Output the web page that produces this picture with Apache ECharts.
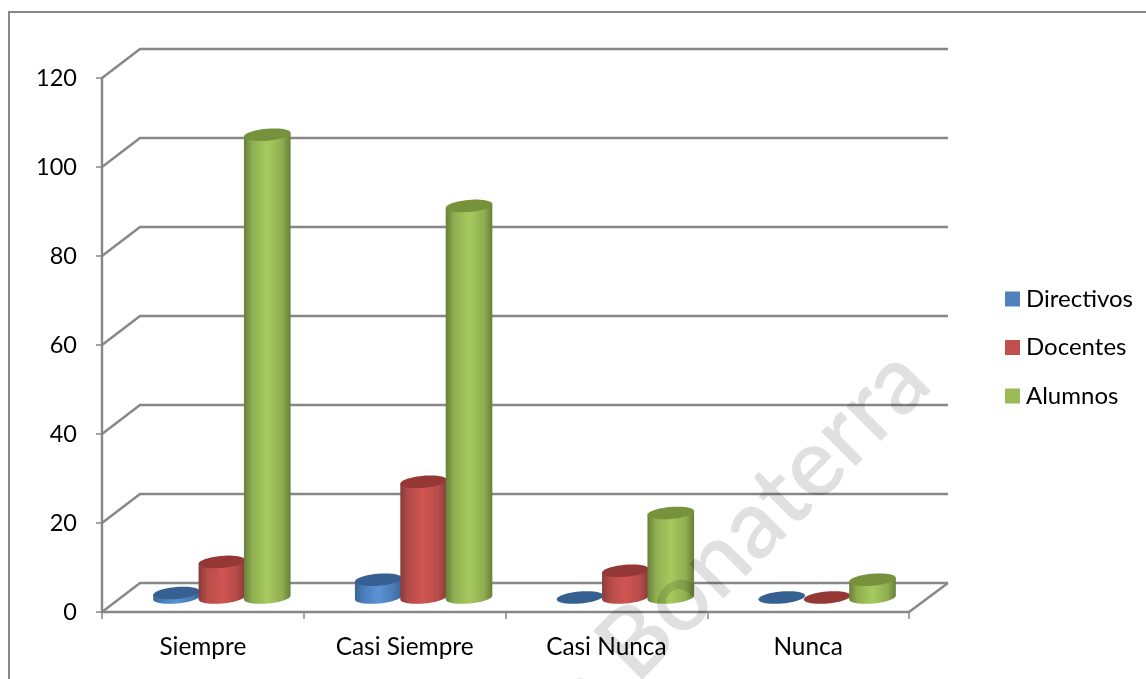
<!DOCTYPE html>
<html><head><meta charset="utf-8">
<style>html,body{margin:0;padding:0;background:#fff;overflow:hidden}#c{width:1146px;height:679px}</style>
<script src="https://cdn.jsdelivr.net/npm/echarts@6/dist/echarts.min.js"></script>
</head><body><div id="c"></div>
<script>
var categories = ['Siempre', 'Casi Siempre', 'Casi Nunca', 'Nunca'];
var directivos = [1, 4, 0, 0];
var docentes = [8, 26, 6, 0];
var alumnos = [104, 88, 19, 4];
var yTicks = [0, 20, 40, 60, 80, 100, 120];

var FONT = 'Lato';
var GRAY = '#878787';
var DX = 38, DY = -29, RY = 6, TILT = -5 * Math.PI / 180;

function ell(cx, cy, rx, t) {
  return [cx + rx * Math.cos(t) * Math.cos(TILT) - RY * Math.sin(t) * Math.sin(TILT),
          cy + rx * Math.cos(t) * Math.sin(TILT) + RY * Math.sin(t) * Math.cos(TILT)];
}
function cylinder(idx, pal) {
  return function (params, api) {
    var c = api.value(0), v = api.value(1);
    var band = api.size([1, 0])[0];
    var w = band * 0.225, rx = w / 2 + 0.7;
    var base = api.coord([c, 0]), top = api.coord([c, v]);
    var cx = base[0] + DX / 2 + (idx - 1) * w;
    var by = base[1] + DY / 2, ty = top[1] + DY / 2;
    var children = [];
    var i, pts = [], tp = [];
    if (v > 0) {
      pts.push(ell(cx, ty, rx, Math.PI));
      for (i = 0; i <= 24; i++) pts.push(ell(cx, by, rx, Math.PI - Math.PI * i / 24));
      pts.push(ell(cx, ty, rx, 0));
      children.push({ type: 'polygon', shape: { points: pts }, style: {
        fill: { type: 'linear', x: 0, y: 0, x2: 1, y2: 0, colorStops: [
          { offset: 0, color: pal.edge }, { offset: 0.18, color: pal.mid },
          { offset: 0.5, color: pal.light }, { offset: 0.82, color: pal.mid },
          { offset: 1, color: pal.edge }] } } });
    }
    for (i = 0; i < 48; i++) tp.push(ell(cx, ty, rx, 2 * Math.PI * i / 48));
    children.push({ type: 'polygon', shape: { points: tp }, style: { fill: pal.top } });
    return { type: 'group', children: children };
  };
}
function makeSeries(name, values, idx, color, pal) {
  return { type: 'custom', name: name, coordinateSystem: 'cartesian2d', clip: false, z: 5 + idx,
    itemStyle: { color: color }, encode: { x: 0, y: 1 },
    data: values.map(function (v, i) { return [i, v]; }),
    renderItem: cylinder(idx, pal) };
}
var walls = { type: 'custom', name: 'walls', coordinateSystem: 'cartesian2d', clip: false, silent: true, z: 1,
  encode: { y: 0 }, data: yTicks.map(function (t) { return [t]; }),
  renderItem: function (params, api) {
    var cs = params.coordSys, y = api.coord([0, api.value(0)])[1];
    var kids = [{ type: 'polyline', shape: { points: [[cs.x, y], [cs.x + DX, y + DY], [cs.x + cs.width + DX + 1, y + DY]] },
      style: { stroke: GRAY, lineWidth: 2.4, fill: null } }];
    if (api.value(0) === 0) kids.push({ type: 'line', shape: { x1: cs.x + cs.width, y1: y, x2: cs.x + cs.width + DX + 1, y2: y + DY },
      style: { stroke: GRAY, lineWidth: 2.4 } });
    return { type: 'group', children: kids };
  } };

var chart = echarts.init(document.getElementById('c'), null, { renderer: 'canvas' });
chart.setOption({
  animation: false,
  backgroundColor: '#fff',
  textStyle: { fontFamily: FONT },
  grid: { left: 102, right: 237, top: 78, bottom: 67, containLabel: false },
  xAxis: { type: 'category', data: categories,
    axisLine: { show: true, lineStyle: { color: GRAY, width: 2.4 } },
    axisTick: { show: true, length: 7, alignWithLabel: false, lineStyle: { color: GRAY, width: 1.5 } },
    axisLabel: { color: '#000', fontSize: 24.4, fontFamily: FONT, margin: 23 },
    splitLine: { show: false } },
  yAxis: { type: 'value', min: 0, max: 120, interval: 20,
    axisLine: { show: true, lineStyle: { color: GRAY, width: 2.4 } },
    axisTick: { show: true, length: 6, lineStyle: { color: GRAY, width: 1.5 } },
    axisLabel: { color: '#000', fontSize: 23.5, fontFamily: FONT, margin: 25, padding: [4, 0, 0, 0] },
    splitLine: { show: false } },
  legend: { orient: 'vertical', left: 1005, top: 287, padding: 0, itemWidth: 15, itemHeight: 15, itemGap: 24.5,
    icon: 'rect', data: ['Directivos', 'Docentes', 'Alumnos'],
    textStyle: { color: '#000', fontSize: 24, fontFamily: FONT, padding: [0, 0, 0, 1] } },
  graphic: [
    { type: 'rect', z: -10, silent: true, shape: { x: 9, y: 12, width: 1300, height: 900 },
      style: { fill: 'none', stroke: GRAY, lineWidth: 2 } },
    { type: 'text', z: 100, zlevel: 1, silent: true, x: 947, y: 399, rotation: Math.PI / 4, scaleX: 1.0,
      style: { text: 'a Bonaterra', fill: 'rgba(0,0,0,0.12)', font: '600 96px Lato', textAlign: 'right', textVerticalAlign: 'bottom' } }
  ],
  series: [walls,
    makeSeries('Directivos', directivos, 0, '#4F81BD', { edge: '#3b6593', mid: '#4a7cb8', light: '#5b93d6', top: '#376092' }),
    makeSeries('Docentes', docentes, 1, '#C0504D', { edge: '#873b39', mid: '#b54c49', light: '#d05552', top: '#953735' }),
    makeSeries('Alumnos', alumnos, 2, '#9BBB59', { edge: '#66803a', mid: '#8fae50', light: '#a6ca5f', top: '#76923C' })
  ]
});
</script></body></html>
